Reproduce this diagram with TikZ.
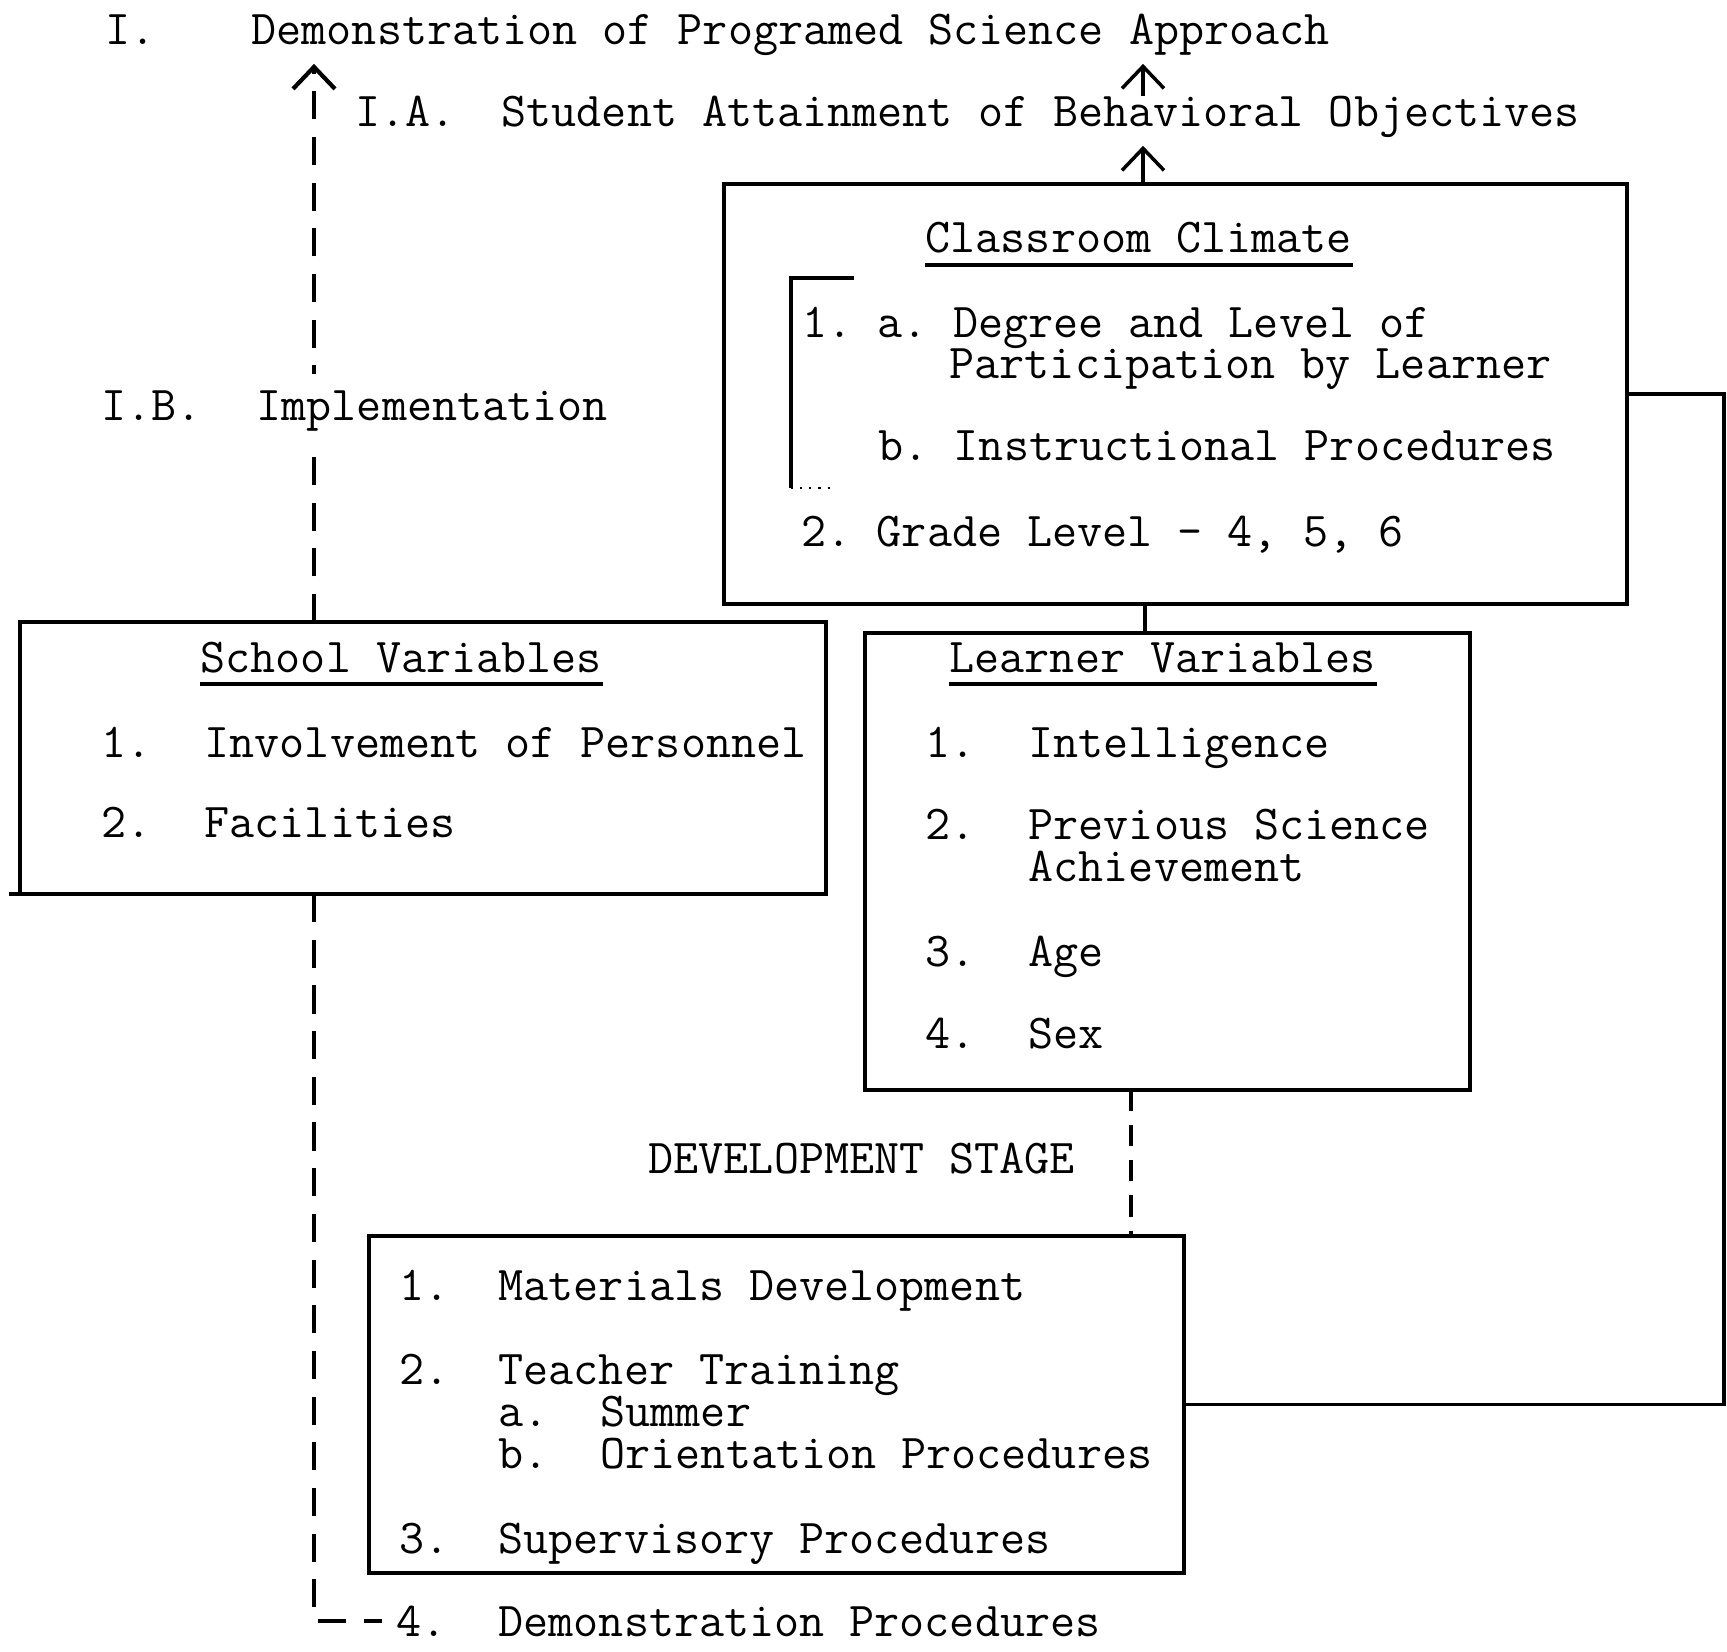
\documentclass[tikz,border=0pt]{standalone}
\usepackage{fontspec}
\usetikzlibrary{arrows.meta,positioning}
\frenchspacing

\begin{document}
\begin{tikzpicture}[>={Straight Barb[length=2.2mm,width=4.2mm]},
	font=\ttfamily\fontsize{13.85}{16}\selectfont\frenchspacing,
	txt/.style={anchor=base west,inner sep=0pt},
	box/.style={draw,line width=1pt,outer sep=0pt,inner sep=0pt},
	link/.style={line width=1.2pt,dash pattern=on 8pt off 5pt},
	uline/.style={line width=1.2pt}]

\useasboundingbox (0,0) rectangle (17.27,-16.52);

\node[txt]   (inum)   at (1.05,-0.45)  	{I.};
\node[txt]   (demo)   at (2.51,-0.45)  	{Demonstration of Programed Science Approach};
\node[txt]   (ianum)  at (3.55,-1.27)  	{I.A.};
\node[txt]   (ia)     at (5.01,-1.27)  	{Student Attainment of Behavioral Objectives};
\node[txt]   (ibnum)  at (1.01,-4.21)  	{I.B.};

\node[box,minimum width=9.03cm,minimum height=4.2cm]   (climate) at (11.755,-3.94) {};
\node[box,minimum width=6.05cm,minimum height=4.57cm]  (learner) at (11.675,-8.615) {};
\node[box,minimum width=8.06cm,minimum height=2.72cm]  (school)  at (4.23,-7.58) {};
\node[box,minimum width=8.15cm,minimum height=3.37cm]  (dev)     at (7.765,-14.045) {};

\node[txt]   (cc)     at (9.25,-2.53)  	{Classroom Climate};
\node[txt]   (c1a)    at (8.02,-3.38)  	{1. a. Degree and Level of};
\node[txt]   (c1a2)   at (9.49,-3.79)  	{Participation by Learner};
\node[txt]   (c1b)    at (8.78,-4.61)  	{b. Instructional Procedures};
\node[txt]   (c2)     at (8.01,-5.47)  	{2. Grade Level - 4, 5, 6};

\node[txt]   (sv)     at (2.00,-6.72)  	{School Variables};
\node[txt]   (s1n)    at (1.01,-7.57)  	{1.};
\node[txt]   (s1)     at (2.04,-7.57)  	{Involvement of Personnel};
\node[txt]   (s2n)    at (1.01,-8.37)  	{2.};
\node[txt]   (s2)     at (2.04,-8.37)  	{Facilities};

\node[txt]   (lv)     at (9.49,-6.72)  	{Learner Variables};
\node[txt]   (l1n)    at (9.25,-7.57)  	{1.};
\node[txt]   (l1)     at (10.28,-7.57) 	{Intelligence};
\node[txt]   (l2n)    at (9.25,-8.39)  	{2.};
\node[txt]   (l2)     at (10.28,-8.39) 	{Previous Science};
\node[txt]   (l2b)    at (10.28,-8.81) 	{Achievement};
\node[txt]   (l3n)    at (9.25,-9.66)  	{3.};
\node[txt]   (l3)     at (10.28,-9.66) 	{Age};
\node[txt]   (l4n)    at (9.25,-10.48) 	{4.};
\node[txt]   (l4)     at (10.28,-10.48)	{Sex};

\node[txt]   (stage)  at (6.48,-11.73) 	{DEVELOPMENT STAGE};
\node[txt]   (d1n)    at (3.99,-13.00) 	{1.};
\node[txt]   (d1)     at (4.98,-13.00) 	{Materials Development};
\node[txt]   (d2n)    at (3.99,-13.84) 	{2.};
\node[txt]   (d2)     at (4.98,-13.84) 	{Teacher Training};
\node[txt]   (d2an)   at (4.98,-14.26) 	{a.};
\node[txt]   (d2a)    at (6.00,-14.26) 	{Summer};
\node[txt]   (d2bn)   at (4.98,-14.68) 	{b.};
\node[txt]   (d2b)    at (6.00,-14.68) 	{Orientation Procedures};
\node[txt]   (d3n)    at (3.99,-15.53) 	{3.};
\node[txt]   (d3)     at (4.98,-15.53) 	{Supervisory Procedures};
\node[txt]   (d4n)    at (3.96,-16.36) 	{4.};
\node[txt]   (d4)     at (4.98,-16.36) 	{Demonstration Procedures};

\coordinate (ax) at (11.43,0);
\coordinate (bx) at (3.14,0);
\coordinate (cx) at (11.45,0);
\coordinate (lx) at (11.31,0);

\foreach \n in {cc,sv,lv}
	\draw[uline] ([yshift=-3.5pt]\n.base west) -- ([yshift=-3.5pt]\n.base east);

\draw[line width=1pt] (8.54,-2.78) -- (7.91,-2.78) -- (7.91,-4.88);
\draw[line width=0.6pt,dotted] (7.91,-4.88) -- (8.3,-4.88);
\draw[line width=1.2pt] (school.south west) -- ++(-0.11,0);

\path[->,line width=1pt,shorten >=2pt]
	(ia.north -| ax)      edge (demo.south -| ax)
	(climate.north -| ax) edge (ia.south -| ax);
\draw[->,link,shorten >=2pt] (school.north -| bx) -- (demo.south -| bx);
\draw[link] (school.south -| bx) |- ([xshift=-4pt]d4n.west);
\draw[line width=1pt] (climate.south -| cx) -- (learner.north -| cx);
\draw[link,dash pattern=on 6pt off 4pt] (learner.south -| lx) -- (dev.north -| lx);
\draw[line width=1pt] (climate.east) -- ++(0.97,0) |- (dev.east);

\node[txt,fill=white,inner ysep=5pt] (ib) at (2.56,-4.21) {Implementation};

\end{tikzpicture}
\end{document}
